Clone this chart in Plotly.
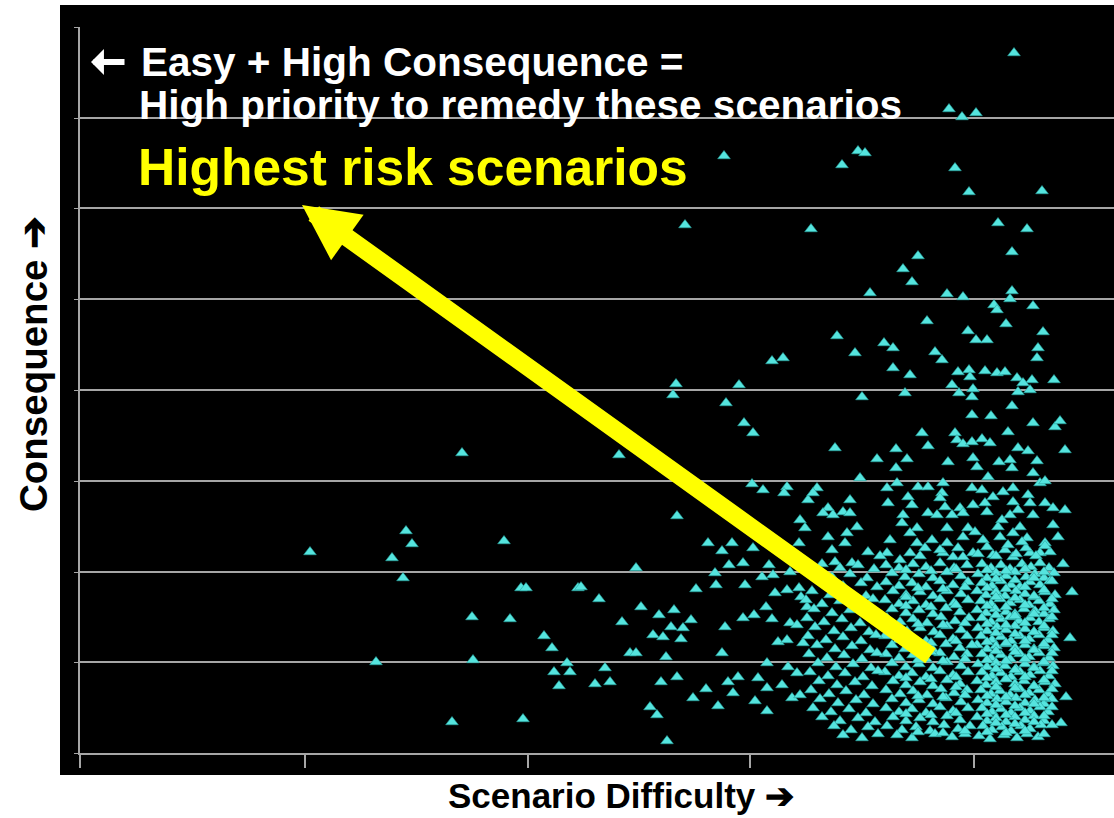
import plotly.graph_objects as go

# ---- axis ticks / gridlines (arbitrary units: difficulty, consequence) ----
x_tickvals = [80, 305, 528, 750, 974]
y_gridvals = [47, 138, 228, 319, 410, 501, 592, 682, 773]

# ---- scattered scenarios ----
difficulty_outer = [
    462, 406, 412, 310, 392, 403, 504, 521, 526, 578, 472, 510, 544, 552, 376, 473, 567, 554, 570, 559, 452, 523,
    676, 673, 739, 726, 744, 753, 619, 752, 763, 787, 784, 808, 677, 708, 722, 732, 753, 800, 805, 799,
    729, 743, 636, 715, 716, 745, 762, 773, 769, 790, 581, 599, 696, 775, 787, 799, 801, 641, 659, 674,
    622, 691, 683, 671, 653, 663, 681, 725, 743, 754, 766, 772, 790, 797, 807, 778, 787, 803, 630, 636,
    666, 722, 767, 788, 797, 595, 605, 610, 661, 677, 706, 693, 718, 728, 738, 733, 758, 767, 755, 782,
    792, 800, 767, 650, 657, 667,
    724, 842, 685, 811, 837, 772, 783, 1014, 949, 962, 976, 858, 865, 955, 969, 1042, 998, 1027, 1012,
    918, 903, 912, 870, 947, 963, 1012, 1010, 1033, 994, 997, 927, 1006, 1043, 968, 976, 987, 884, 893,
    855, 935, 942, 1038, 1037, 893, 910, 958, 969, 970, 985, 997, 1005, 1017, 1032, 1054,
    862, 905, 952, 959, 972, 973, 1018, 1030, 1023, 1012, 972, 991, 1033, 1055, 1060, 1008, 922, 955,
    957, 963, 972, 982, 990, 928, 835, 896, 1018, 1028, 1065, 877, 907, 948, 973, 977, 999, 1010, 1012,
    1037, 896, 1033, 860, 988, 897, 943, 942, 1040, 1045, 817, 813, 887, 918, 928, 972, 982, 1003, 1013,
    1028, 850, 908, 912, 940, 993, 888, 945, 960, 963, 973, 985, 987, 1013, 1018, 1030, 1045, 1053, 1065,
    828, 823, 833, 843, 850, 903, 902, 928, 937, 952, 1002, 1010, 1033, 857, 917, 910, 947, 968, 975,
    998, 1013, 1020, 1053, 828, 847, 845, 890, 917, 932, 947, 963, 983, 1000, 1027, 1045, 1058, 832,
    868, 887, 910, 925, 943, 953, 963, 973, 993, 1005, 1013, 1030, 1040, 835, 852,
    1072, 1070, 1066, 1061, 1063,
    978, 996, 1016, 1036, 1050, 987, 1008, 1026, 1045, 940, 958, 920, 900, 880, 1022,
]
consequence_outer = [
    347, 269, 256, 248, 242, 222, 259, 212, 212, 212, 183, 181, 164, 152, 138, 140, 137, 128, 128, 114, 78, 81,
    416, 405, 415, 397, 377, 367, 345, 316, 310, 313, 307, 300, 284, 257, 249, 257, 252, 280, 272, 257,
    235, 237, 232, 227, 215, 215, 223, 225, 235, 228, 213, 201, 211, 207, 210, 212, 203, 193, 185, 190,
    178, 180, 172, 173, 165, 163, 161, 173, 182, 185, 193, 181, 177, 175, 193, 158, 160, 157, 147, 147,
    143, 147, 137, 133, 127, 116, 132, 118, 118, 123, 111, 102, 94, 118, 123, 107, 122, 112, 99, 115,
    102, 105, 89, 93, 85, 59,
    644, 635, 575, 571, 464, 439, 442, 747, 691, 683, 687, 649, 647, 632, 608, 609, 577, 571, 548,
    544, 531, 518, 507, 506, 503, 509, 501, 494, 495, 490, 479, 476, 468, 469, 460, 460, 457, 452,
    447, 448, 440, 452, 442, 432, 425, 428, 430, 423, 429, 427, 428, 422, 420, 420,
    403, 407, 415, 407, 403, 411, 408, 410, 417, 394, 385, 384, 377, 373, 379, 368, 367, 367,
    360, 356, 358, 361, 357, 354, 352, 351, 352, 349, 350, 341, 341, 338, 342, 333, 338, 340, 332,
    339, 332, 327, 322, 323, 317, 317, 307, 317, 319, 312, 307, 312, 313, 313, 312, 310, 308, 312,
    305, 300, 303, 295, 302, 303, 297, 293, 292, 287, 295, 297, 288, 298, 290, 297, 297, 292, 290,
    292, 287, 285, 288, 287, 285, 277, 287, 285, 285, 280, 285, 285, 273, 272, 267, 272, 272, 268,
    273, 267, 273, 275, 263, 267, 257, 260, 257, 260, 257, 263, 260, 263, 262, 257, 263, 250,
    248, 247, 247, 252, 247, 243, 243, 247, 245, 250, 243, 247, 247, 238, 237,
    208, 162, 103, 77, 236,
    246, 244, 246, 244, 248, 253, 255, 252, 254, 250, 252, 244, 240, 244, 258,
]

# ---- dense cluster of scenarios (bottom right) ----
difficulty_cluster = [
    982, 991, 1001, 1010, 1022, 1031, 1040, 1049,
    978, 987, 996, 1006, 1015, 1026, 1035, 1044, 1054,
    982, 992, 1001, 1011, 1020, 1030, 1040, 1050,
    977, 986, 996, 1005, 1016, 1025, 1034, 1045, 1055,
    981, 991, 1000, 1010, 1020, 1029, 1039, 1050,
    977, 986, 995, 1006, 1015, 1024, 1035, 1044, 1054,
    982, 991, 1001, 1010, 1019, 1030, 1039, 1049,
    978, 987, 997, 1006, 1015, 1025, 1034, 1044, 1053,
    981, 992, 1001, 1011, 1020, 1029, 1039, 1048,
    977, 987, 996, 1006, 1015, 1025, 1034, 1044, 1054,
    982, 991, 1001, 1010, 1020, 1029, 1039, 1049,
    978, 987, 996, 1005, 1016, 1025, 1034, 1043, 1053,
    982, 992, 1001, 1011, 1020, 1030, 1040, 1049,
    977, 986, 996, 1006, 1015, 1024, 1034, 1045, 1055,
    981, 991, 1000, 1010, 1020, 1029, 1039, 1048,
    978, 987, 997, 1006, 1016, 1025, 1035, 1044, 1052,
    982, 992, 1001, 1011, 1020, 1030, 1040, 1048,
    977, 987, 996, 1006, 1015, 1025, 1034, 1044,
    983, 992, 1002, 1011, 1021, 1030, 1041,
    979, 990, 1004, 1017, 1027, 1038,
    886, 899, 913, 926, 940, 954, 967,
    892, 905, 919, 933, 947, 961,
    886, 899, 912, 926, 940, 953, 968,
    893, 906, 920, 933, 947, 961,
    885, 899, 913, 926, 940, 954, 968,
    892, 906, 919, 933, 946, 960,
    887, 900, 913, 927, 941, 955, 969,
    893, 907, 920, 934, 947, 961,
    885, 899, 912, 926, 940, 953, 967,
    892, 905, 919, 933, 946, 960, 972,
    886, 899, 913, 926, 940, 954, 967,
    892, 906, 919, 933, 947, 961,
    885, 899, 912, 926, 940, 953, 968,
    893, 906, 920, 933, 947, 960,
    886, 900, 913, 927, 941, 954, 967,
    892, 906, 919, 933, 946, 961,
    886, 899, 912, 926, 940, 953, 968,
    893, 906, 920, 933, 947, 960,
    887, 902, 916, 930, 944, 958, 970,
    897, 912, 935, 952, 965,
    822, 840, 858, 874,
    815, 832, 850, 867,
    825, 843, 861, 877,
    812, 830, 848, 866,
    806, 822, 840, 857, 873,
    814, 832, 850, 868,
    807, 824, 842, 860, 876,
    815, 834, 851, 869,
    808, 826, 843, 861, 876,
    817, 835, 852, 870,
    809, 827, 844, 862, 877,
    818, 836, 853, 871,
    810, 828, 845, 863, 878,
    819, 837, 855, 872,
    811, 829, 846, 864,
    820, 838, 856, 873,
    813, 831, 849, 866,
    822, 840, 858, 875,
    834, 851, 868,
    843, 862, 878,
]
consequence_cluster = [
    236, 232, 235, 231, 236, 233, 237, 232,
    226, 222, 227, 224, 228, 223, 226, 222, 227,
    217, 214, 219, 215, 213, 218, 215, 219,
    209, 205, 208, 204, 209, 206, 203, 208, 205,
    199, 196, 201, 197, 200, 195, 199, 196,
    190, 187, 191, 188, 186, 191, 189, 186, 190,
    182, 178, 181, 183, 179, 182, 178, 181,
    172, 169, 173, 170, 174, 171, 168, 172, 169,
    164, 160, 163, 159, 164, 161, 165, 160,
    155, 151, 154, 156, 152, 155, 151, 154, 152,
    146, 142, 145, 141, 146, 143, 147, 142,
    136, 133, 137, 134, 131, 136, 133, 137, 134,
    128, 124, 127, 123, 128, 125, 129, 124,
    119, 115, 118, 121, 116, 119, 114, 118, 116,
    110, 106, 109, 105, 111, 107, 110, 106,
    100, 97, 101, 98, 102, 97, 100, 96, 101,
    92, 88, 91, 87, 92, 89, 93, 88,
    83, 79, 82, 78, 83, 80, 84, 79,
    74, 70, 73, 69, 74, 71, 75,
    64, 61, 65, 62, 66, 63,
    235, 232, 236, 233, 237, 232, 235,
    227, 223, 226, 222, 228, 224,
    218, 214, 217, 213, 219, 215, 218,
    209, 205, 208, 204, 209, 206,
    200, 196, 199, 195, 201, 197, 200,
    191, 187, 190, 186, 192, 188,
    182, 178, 181, 177, 183, 179, 182,
    173, 169, 172, 168, 174, 170,
    164, 160, 163, 159, 165, 161, 164,
    155, 151, 154, 150, 156, 152, 155,
    146, 142, 145, 141, 147, 143, 146,
    137, 133, 136, 132, 138, 134,
    128, 124, 127, 123, 129, 125, 128,
    119, 115, 118, 114, 120, 116,
    110, 106, 109, 105, 111, 107, 110,
    101, 97, 100, 96, 102, 98,
    92, 88, 91, 87, 93, 89, 92,
    83, 79, 82, 78, 84, 80,
    74, 70, 73, 69, 75, 71, 74,
    65, 62, 66, 63, 66,
    236, 232, 235, 231,
    227, 223, 226, 222,
    218, 214, 217, 213,
    209, 205, 208, 204,
    200, 196, 199, 195, 201,
    191, 187, 190, 186,
    182, 178, 181, 177, 183,
    173, 169, 172, 168,
    164, 160, 163, 159, 165,
    155, 151, 154, 150,
    146, 142, 145, 141, 147,
    137, 133, 136, 132,
    128, 124, 127, 123, 129,
    119, 115, 118, 114,
    110, 106, 109, 105,
    101, 97, 100, 96,
    92, 88, 91, 87,
    83, 79, 82, 78,
    74, 70, 73,
    65, 62, 66,
]

# ---- extra scenarios filling the core of the cluster ----
difficulty_core = [
    987, 1006, 1025, 1044,
    996, 1015, 1034, 1052,
    987, 1006, 1025, 1044,
    996, 1015, 1034, 1052,
    987, 1006, 1025, 1044,
    996, 1015, 1034, 1052,
    987, 1006, 1025, 1044,
    996, 1015, 1034, 1052,
    987, 1006, 1025, 1044,
    996, 1015, 1034, 1052,
    987, 1006, 1025, 1044,
    996, 1015, 1034, 1052,
    987, 1006, 1025, 1044,
    996, 1015, 1034, 1052,
    987, 1006, 1025, 1044,
    996, 1015, 1034, 1052,
    987, 1006, 1025, 1044,
    996, 1015, 1034, 1052,
    987, 1006, 1025, 1044,
    906, 931, 956, 918, 943, 965, 906, 931, 956, 918, 943, 965,
    906, 931, 956, 918, 943, 965, 906, 931, 956, 918, 943, 965,
    906, 931, 956, 918, 943, 965, 906, 931, 956,
]
consequence_core = [
    230, 229, 231, 228,
    221, 220, 222, 219,
    212, 211, 213, 210,
    203, 202, 204, 201,
    194, 193, 195, 192,
    185, 184, 186, 183,
    176, 175, 177, 174,
    167, 166, 168, 165,
    158, 157, 159, 156,
    149, 148, 150, 147,
    140, 139, 141, 138,
    131, 130, 132, 129,
    122, 121, 123, 120,
    113, 112, 114, 111,
    104, 103, 105, 102,
    95, 94, 96, 93,
    86, 85, 87, 84,
    77, 76, 78, 75,
    68, 67, 69, 66,
    230, 229, 231, 212, 211, 213, 194, 193, 195, 176, 175, 177,
    158, 157, 159, 140, 139, 141, 122, 121, 123, 104, 103, 105,
    86, 85, 87, 68, 67, 69, 203, 148, 113,
]

# ---- arrows (tail -> head) in data units ----
arrow_tail = (932, 143)
arrow_head = (302, 595)
small_arrow_tail = (126, 738)
small_arrow_head = (91, 738)

X_RANGE = [80, 1114]
Y_RANGE = [47, 773]

marker_style = dict(symbol="triangle-up", size=11, color="#55E4DE",
                    line=dict(color="#26A09B", width=0.6))

fig = go.Figure()
for xs, ys in ((difficulty_outer, consequence_outer),
               (difficulty_cluster, consequence_cluster),
               (difficulty_core, consequence_core)):
    fig.add_trace(go.Scatter(x=xs, y=ys, mode="markers", marker=marker_style,
                             showlegend=False, hoverinfo="skip"))

grid_col = "#A6A6A6"
fig.update_layout(
    width=1114, height=818,
    margin=dict(l=80, r=0, t=27, b=65),
    paper_bgcolor="white", plot_bgcolor="black",
    xaxis=dict(range=X_RANGE, tickvals=x_tickvals, showticklabels=False, showgrid=False,
               zeroline=False, showline=True, linecolor=grid_col, linewidth=2,
               ticks="outside", ticklen=13, tickwidth=1.5, tickcolor=grid_col),
    yaxis=dict(range=Y_RANGE, tickvals=y_gridvals, showticklabels=False, showgrid=True,
               gridcolor=grid_col, gridwidth=2, zeroline=False, showline=True,
               linecolor=grid_col, linewidth=1.5, ticks="outside", ticklen=4,
               tickcolor=grid_col),
)

# black panel extending past the axes (as in the reference)
W = X_RANGE[1] - X_RANGE[0]
H = 726.0
fig.add_shape(type="rect", xref="paper", yref="paper", layer="below",
              x0=(60 - 80) / W, x1=1.0, y0=-22 / H, y1=1 + 22 / H,
              fillcolor="black", line=dict(width=0))

# yellow arrow
fig.add_annotation(x=arrow_head[0], y=arrow_head[1], ax=arrow_tail[0], ay=arrow_tail[1],
                   xref="x", yref="y", axref="x", ayref="y", text="", showarrow=True,
                   arrowhead=2, arrowsize=0.62, arrowwidth=18, arrowcolor="#FFFF00", standoff=0)

# small white left arrow before the first text line
fig.add_annotation(x=small_arrow_head[0], y=small_arrow_head[1],
                   ax=small_arrow_tail[0], ay=small_arrow_tail[1],
                   xref="x", yref="y", axref="x", ayref="y", text="", showarrow=True,
                   arrowhead=1, arrowsize=0.72, arrowwidth=6, arrowcolor="white", standoff=0)

white_font = dict(family="Liberation Sans, Arial, sans-serif", size=40.5, color="white", weight="bold")
fig.add_annotation(x=139, y=738, xref="x", yref="y", text="Easy + High Consequence =",
                   showarrow=False, xanchor="left", yanchor="middle", font=white_font)
fig.add_annotation(x=137, y=695, xref="x", yref="y", text="High priority to remedy these scenarios",
                   showarrow=False, xanchor="left", yanchor="middle", font=white_font)
fig.add_annotation(x=136, y=633, xref="x", yref="y", text="Highest risk scenarios",
                   showarrow=False, xanchor="left", yanchor="middle",
                   font=dict(family="Liberation Sans, Arial, sans-serif", size=51.5,
                             color="#FFFF00", weight="bold"))

# axis titles
fig.add_annotation(x=(621 - 80) / W, y=(753 - 795) / H, xref="paper", yref="paper",
                   text="Scenario Difficulty ➔", showarrow=False, xanchor="center", yanchor="middle",
                   font=dict(family="Liberation Sans, Arial, sans-serif", size=35, color="black",
                             weight="bold"))
fig.add_annotation(x=(33 - 80) / W, y=(753 - 364) / H, xref="paper", yref="paper",
                   text="Consequence ➔", showarrow=False, xanchor="center", yanchor="middle",
                   textangle=-90,
                   font=dict(family="Liberation Sans, Arial, sans-serif", size=38.5, color="black",
                             weight="bold"))

fig.write_html("out.html", config={"displayModeBar": False},
               post_script="document.body.style.margin='0px';document.body.style.padding='0px';")
